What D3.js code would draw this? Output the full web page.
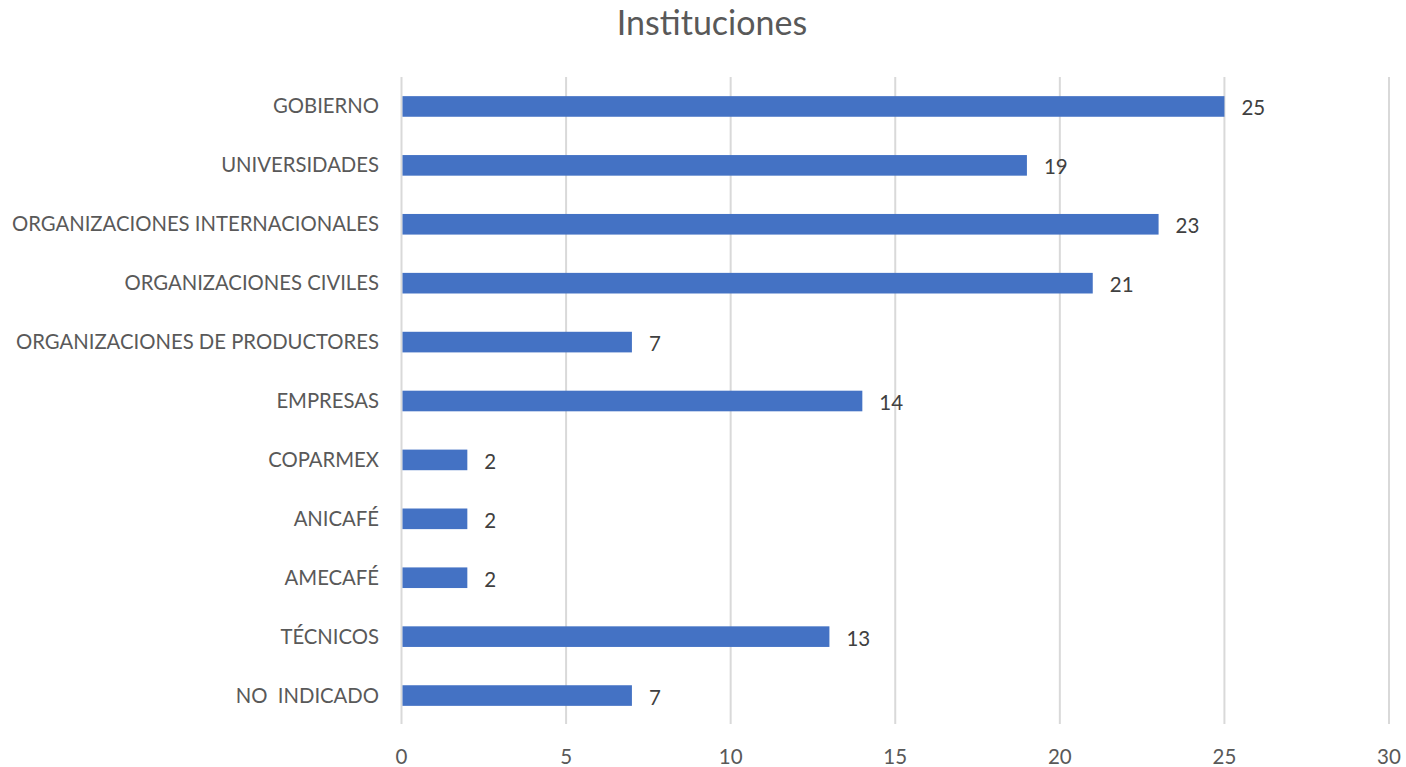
<!DOCTYPE html>
<html>
<head>
<meta charset="utf-8">
<script src="https://cdn.jsdelivr.net/npm/d3@7"></script>
<style>
  body { margin: 0; background: #fff; }
  svg { font-family: Lato, "Open Sans", sans-serif; }
</style>
</head>
<body>
<svg width="1406" height="767"></svg>
<script>
// datos del grafico
const categorias = ["GOBIERNO", "UNIVERSIDADES", "ORGANIZACIONES INTERNACIONALES", "ORGANIZACIONES CIVILES",
  "ORGANIZACIONES DE PRODUCTORES", "EMPRESAS", "COPARMEX", "ANICAFÉ", "AMECAFÉ", "TÉCNICOS", "NO  INDICADO"];
const valores = [25, 19, 23, 21, 7, 14, 2, 2, 2, 13, 7];
const ticksX = [0, 5, 10, 15, 20, 25, 30];

const svg = d3.select("svg");
const plotLeft = 401.5, plotRight = 1389, plotTop = 77, plotBottom = 725;

const x = d3.scaleLinear().domain([0, 30]).range([plotLeft, plotRight]);
const y = d3.scaleBand().domain(categorias).range([plotTop, plotBottom]).paddingInner(0.65).paddingOuter(0.325);

// titulo
svg.append("text").attr("x", 712).attr("y", 35).attr("text-anchor", "middle")
  .attr("font-size", 34).attr("fill", "#595959").text("Instituciones");

// lineas de cuadricula
svg.append("g").selectAll("line").data(ticksX).enter().append("line")
  .attr("x1", d => x(d)).attr("x2", d => x(d))
  .attr("y1", plotTop).attr("y2", plotBottom - 1)
  .attr("stroke", "#d9d9d9").attr("stroke-width", 2);

// eje x
svg.append("g").selectAll("text").data(ticksX).enter().append("text")
  .attr("x", d => x(d)).attr("y", 764).attr("text-anchor", "middle")
  .attr("font-size", 20.5).attr("fill", "#595959").text(d => d);

// barras
svg.append("g").selectAll("rect").data(valores).enter().append("rect")
  .attr("x", x(0) + 1).attr("y", (d, i) => y(categorias[i]))
  .attr("width", d => x(d) - x(0) - 1).attr("height", y.bandwidth())
  .attr("fill", "#4472c4");

// etiquetas de categoria
svg.append("g").selectAll("text").data(categorias).enter().append("text")
  .attr("x", 379).attr("y", d => y(d) + y.bandwidth() / 2 + 7)
  .attr("text-anchor", "end").attr("font-size", 20.3).attr("fill", "#595959")
  .attr("xml:space", "preserve").style("white-space", "pre").text(d => d);

// etiquetas de valor
svg.append("g").selectAll("text").data(valores).enter().append("text")
  .attr("x", d => x(d) + 17).attr("y", (d, i) => y(categorias[i]) + y.bandwidth() / 2 + 9)
  .attr("font-size", 20.5).attr("fill", "#404040").text(d => d);
</script>
</body>
</html>
